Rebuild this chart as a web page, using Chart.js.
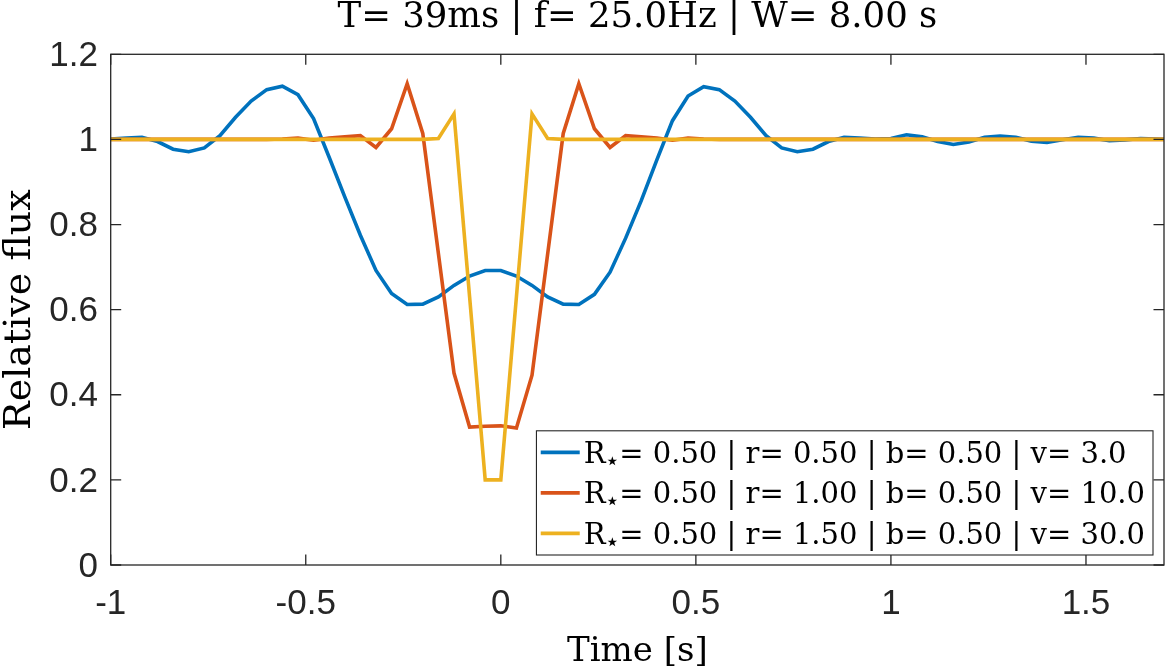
<!DOCTYPE html>
<html>
<head>
<meta charset="utf-8">
<script src="https://cdn.jsdelivr.net/npm/chart.js@4.4.1/dist/chart.umd.min.js"></script>
<style>
html,body{margin:0;padding:0;background:#fff;}
canvas{display:block;}
</style>
</head>
<body>
<canvas id="c" width="1166" height="669"></canvas>
<script>
// ---------------- data ----------------
const titleText = 'T= 39ms | f= 25.0Hz | W= 8.00 s';
const xTitleText = 'Time [s]';
const yTitleText = 'Relative flux';

const times = [-1.00,-0.96,-0.92,-0.88,-0.84,-0.80,-0.76,-0.72,-0.68,-0.64,-0.60,-0.56,-0.52,-0.48,-0.44,-0.40,-0.36,-0.32,-0.28,-0.24,-0.20,-0.16,-0.12,-0.08,-0.04,
  0.00,0.04,0.08,0.12,0.16,0.20,0.24,0.28,0.32,0.36,0.40,0.44,0.48,0.52,0.56,0.60,0.64,0.68,0.72,0.76,0.80,0.84,0.88,0.92,0.96,
  1.00,1.04,1.08,1.12,1.16,1.20,1.24,1.28,1.32,1.36,1.40,1.44,1.48,1.52,1.56,1.60,1.64,1.68,1.72];

const fluxBlue = [1.001,1.003,1.005,0.995,0.977,0.971,0.980,1.009,1.052,1.090,1.117,1.125,1.105,1.049,0.958,0.865,0.775,0.692,0.638,0.612,0.613,0.630,0.657,0.679,0.692,
  0.692,0.679,0.657,0.630,0.613,0.612,0.636,0.688,0.768,0.856,0.952,1.044,1.102,1.124,1.117,1.090,1.052,1.009,0.980,0.971,0.977,0.995,1.005,1.003,1.001,
  1.002,1.011,1.006,0.995,0.988,0.994,1.005,1.008,1.005,0.996,0.993,0.999,1.005,1.003,0.997,0.999,1.002,1.001,1.000];

const fluxRed = [1.000,1.000,1.000,1.000,1.000,1.000,1.000,1.000,1.000,1.000,1.000,1.001,1.003,0.998,1.003,1.006,1.009,0.981,1.025,1.131,1.014,0.732,0.451,0.324,0.326,
  0.327,0.322,0.446,0.730,1.014,1.131,1.025,0.981,1.009,1.006,1.003,0.998,1.003,1.001,1.000,1.000,1.000,1.000,1.000,1.000,1.000,1.000,1.000,1.000,1.000,
  1.000,1.000,1.000,1.000,1.000,1.000,1.000,1.000,1.000,1.000,1.000,1.000,1.000,1.000,1.000,1.000,1.000,1.000,1.000];

const fluxYellow = [1.000,1.000,1.000,1.000,1.000,1.000,1.000,1.000,1.000,1.000,1.000,1.000,1.000,1.000,1.000,1.000,1.000,1.000,1.000,1.000,1.000,1.002,1.060,0.630,0.200,
  0.200,0.630,1.060,1.002,1.000,1.000,1.000,1.000,1.000,1.000,1.000,1.000,1.000,1.000,1.000,1.000,1.000,1.000,1.000,1.000,1.000,1.000,1.000,1.000,1.000,
  1.000,1.000,1.000,1.000,1.000,1.000,1.000,1.000,1.000,1.000,1.000,1.000,1.000,1.000,1.000,1.000,1.000,1.000,1.000];

const seriesLabels = [
  'R\u22C6= 0.50 | r= 0.50 | b= 0.50 | v= 3.0',
  'R\u22C6= 0.50 | r= 1.00 | b= 0.50 | v= 10.0',
  'R\u22C6= 0.50 | r= 1.50 | b= 0.50 | v= 30.0'
];
const seriesColors = ['#0072BD', '#D95319', '#EDB120'];

const xTicks = [-1, -0.5, 0, 0.5, 1, 1.5];
const yTicks = [0, 0.2, 0.4, 0.6, 0.8, 1, 1.2];
const xRange = [-1, 1.7];
const yRange = [0, 1.2];

// ---------------- chart ----------------
const AXIS_COLOR = '#262626';
const SERIF = '"DejaVu Serif", "Liberation Serif", serif';
const SANS = '"Liberation Sans", Arial, Helvetica, sans-serif';

function toPoints(ys) { return times.map((t, i) => ({ x: t, y: ys[i] })); }
const allSeries = [fluxBlue, fluxRed, fluxYellow];

const datasets = allSeries.map((ys, i) => ({
  label: seriesLabels[i],
  data: toPoints(ys),
  borderColor: seriesColors[i],
  backgroundColor: seriesColors[i],
  borderWidth: 3.6,
  pointRadius: 0,
  pointHoverRadius: 0,
  tension: 0,
  fill: false,
  order: 2 - i
}));

const matlabAxes = {
  id: 'matlabAxes',
  afterDatasetsDraw(chart) {
    const ctx = chart.ctx;
    const a = chart.chartArea;
    const xs = chart.scales.x, ys = chart.scales.y;
    ctx.save();
    ctx.strokeStyle = AXIS_COLOR;
    ctx.lineWidth = 1.3;
    ctx.beginPath();
    const tl = 10.5;
    xTicks.forEach(v => {
      const px = xs.getPixelForValue(v);
      ctx.moveTo(px, a.bottom); ctx.lineTo(px, a.bottom - tl);
      ctx.moveTo(px, a.top); ctx.lineTo(px, a.top + tl);
    });
    yTicks.forEach(v => {
      const py = ys.getPixelForValue(v);
      ctx.moveTo(a.left, py); ctx.lineTo(a.left + tl, py);
      ctx.moveTo(a.right, py); ctx.lineTo(a.right - tl, py);
    });
    ctx.stroke();
    ctx.strokeRect(a.left, a.top, a.right - a.left, a.bottom - a.top);

    // ----- legend (inside, bottom-right) -----
    const fs = 29;
    const mainFont = fs + 'px ' + SERIF;
    const subFont = Math.round(fs * 0.85) + 'px "DejaVu Sans", ' + SERIF;
    const parts = chart.data.datasets.map(d => {
      const s = d.label; const k = s.indexOf('\u22C6');
      return [s.slice(0, k), s.slice(k, k + 1), s.slice(k + 1), d.borderColor];
    });
    let maxW = 0;
    parts.forEach(p => {
      ctx.font = mainFont; let w = ctx.measureText(p[0]).width + ctx.measureText(p[2]).width;
      ctx.font = subFont; w += ctx.measureText(p[1]).width;
      maxW = Math.max(maxW, w);
    });
    const rowH = 40.5, padTop = 21.6 - rowH / 2;
    const boxH = parts.length * rowH + 2 * padTop;
    const boxW = 4.3 + 39 + 4 + maxW + 6;
    const right = a.right - 11, bottom = a.bottom - 10;
    const left = right - boxW, top = bottom - boxH;
    ctx.fillStyle = '#fff';
    ctx.fillRect(left, top, boxW, boxH);
    ctx.lineWidth = 1.1;
    ctx.strokeStyle = AXIS_COLOR;
    ctx.strokeRect(left, top, boxW, boxH);
    parts.forEach((p, i) => {
      const cy = top + padTop + rowH / 2 + i * rowH;
      ctx.strokeStyle = p[3];
      ctx.lineWidth = 3.6;
      ctx.beginPath();
      ctx.moveTo(left + 4.3, cy); ctx.lineTo(left + 43.3, cy);
      ctx.stroke();
      ctx.fillStyle = '#000';
      ctx.textBaseline = 'alphabetic';
      ctx.textAlign = 'left';
      let x = left + 47.3;
      const base = cy + 10.5;
      ctx.font = mainFont; ctx.fillText(p[0], x, base); x += ctx.measureText(p[0]).width;
      ctx.font = subFont; ctx.fillText(p[1], x - 1, base + 6); x += ctx.measureText(p[1]).width - 2;
      ctx.font = mainFont; ctx.fillText(p[2], x, base);
    });
    ctx.restore();
  }
};

new Chart(document.getElementById('c'), {
  type: 'line',
  data: { datasets },
  options: {
    responsive: false,
    devicePixelRatio: 1,
    animation: false,
    events: [],
    layout: { padding: { left: 0, right: 2, top: 0, bottom: 0 } },
    plugins: {
      legend: { display: false },
      tooltip: { enabled: false },
      title: {
        display: true,
        text: titleText,
        fullSize: false,
        color: '#000',
        font: { family: SERIF, size: 35.5, weight: 'normal', lineHeight: 1 },
        padding: { top: 0.5, bottom: 18.3 }
      }
    },
    scales: {
      x: {
        type: 'linear',
        min: xRange[0], max: xRange[1],
        afterBuildTicks(s) { s.ticks = xTicks.map(v => ({ value: v })); },
        afterFit(s) { s.height = 104; },
        grid: { display: false, drawTicks: false, drawOnChartArea: false },
        border: { display: false },
        ticks: {
          color: AXIS_COLOR, padding: 18, maxRotation: 0, autoSkip: false,
          font: { family: SANS, size: 35 },
          callback: v => String(v)
        },
        title: {
          display: true, text: xTitleText, color: '#000',
          font: { family: SERIF, size: 34, lineHeight: 1 },
          padding: { top: 0, bottom: 0 }
        }
      },
      y: {
        type: 'linear',
        min: yRange[0], max: yRange[1],
        afterBuildTicks(s) { s.ticks = yTicks.map(v => ({ value: v })); },
        afterFit(s) { s.width = 110.7; },
        grid: { display: false, drawTicks: false, drawOnChartArea: false },
        border: { display: false },
        ticks: {
          color: AXIS_COLOR, padding: 12.7, autoSkip: false, labelOffset: 2,
          font: { family: SANS, size: 35 },
          callback: v => String(v)
        },
        title: {
          display: true, text: yTitleText, color: '#000',
          font: { family: SERIF, size: 38, lineHeight: 1 },
          padding: { top: 1.5, bottom: 0 }
        }
      }
    }
  },
  plugins: [matlabAxes]
});
</script>
</body>
</html>
